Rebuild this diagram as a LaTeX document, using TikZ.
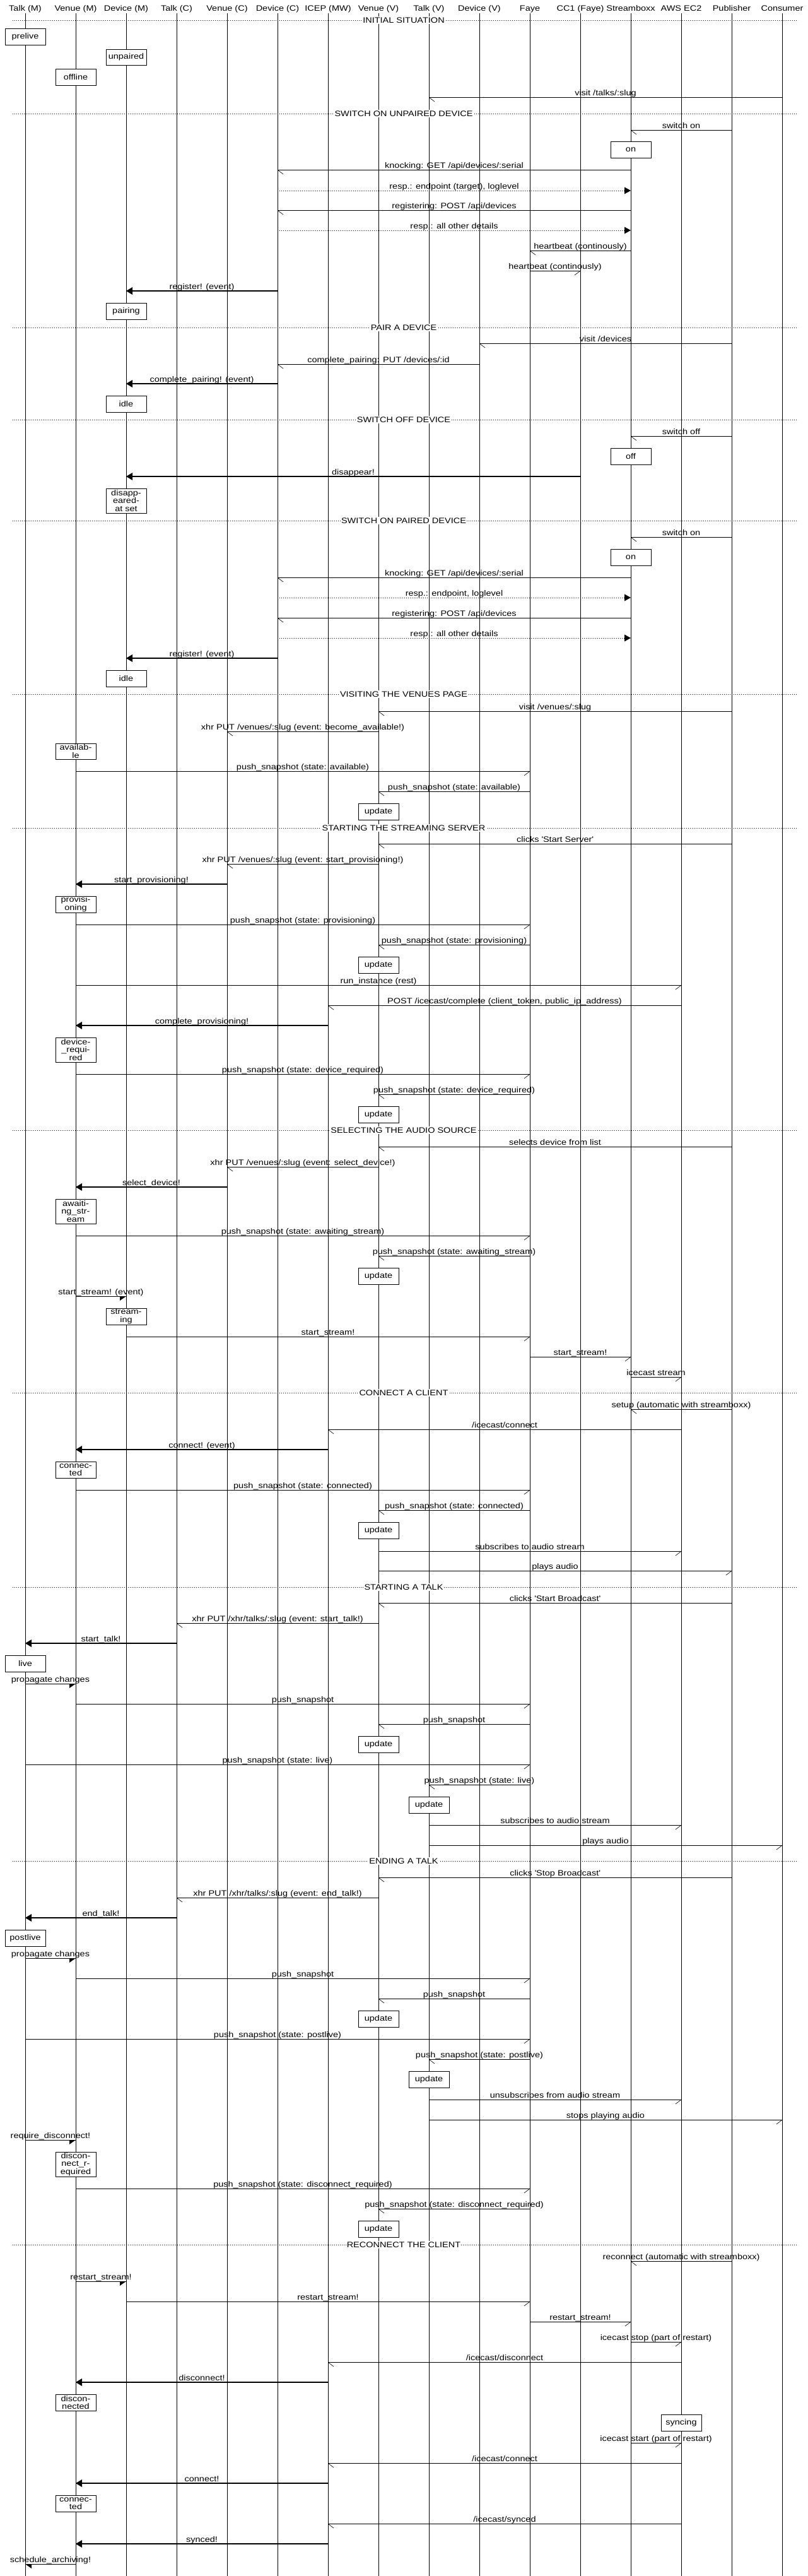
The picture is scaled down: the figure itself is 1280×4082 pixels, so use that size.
\documentclass[tikz,border=0pt]{standalone}
\usepackage{fontspec}
\setmainfont{Liberation Sans}[FakeStretch=1.16]
\newcommand\lblfont{\fontsize{12.5}{12.6}\selectfont}
\newcounter{mc}
\newcommand\setdir[2]{\ifnum#2>#1\relax\def\sdir{-1}\else\def\sdir{1}\fi}
\tikzset{
  lifeline/.style={line width=0.6pt},
  hdr/.style={font=\lblfont, anchor=base, inner sep=0pt},
  lbl/.style={font=\lblfont, anchor=base, inner sep=0pt, yshift=2.5pt, midway},
  thinmsg/.style={line width=1pt},
  barbline/.style={line width=0.6pt},
  thickmsg/.style={line width=1.5pt},
  retmsg/.style={line width=1pt, dotted},
  statebox/.style={draw, fill=white, line width=0.8pt, minimum width=64pt, inner sep=0pt, font=\lblfont, align=center},
  sepline/.style={line width=1pt, dotted},
  seplbl/.style={font=\lblfont, fill=white, inner sep=1.2pt},
}
% thin message with single barb
\newcommand\mthin[4]{\setdir{#1}{#2}\stepcounter{mc}%
  \draw[thinmsg] (L#1|-0,#3) -- (L#2|-0,#3) node[lbl] (m\themc) {#4};%
  \draw[barbline] (L#2|-0,#3) ++(\sdir*1,1) -- ++(\sdir*8,6);}
% thick message with filled triangle
\newcommand\mthick[4]{\setdir{#1}{#2}\stepcounter{mc}%
  \draw[thickmsg, shorten >=3pt] (L#1|-0,#3) -- (L#2|-0,#3) node[lbl] (m\themc) {#4};%
  \fill (L#2|-0,#3) -- ++(\sdir*10,-6) -- ++(0,12) -- cycle;}
% dotted reply with filled triangle
\newcommand\mret[4]{\setdir{#1}{#2}\stepcounter{mc}%
  \draw[retmsg, shorten >=3pt] (L#1|-0,#3) -- (L#2|-0,#3) node[lbl] (m\themc) {#4};%
  \fill (L#2|-0,#3) -- ++(\sdir*10,-5.5) -- ++(0,11) -- cycle;}
% short message with half filled triangle
\newcommand\mshort[4]{\setdir{#1}{#2}\stepcounter{mc}%
  \draw[thinmsg] (L#1|-0,#3) -- (L#2|-0,#3) node[lbl] (m\themc) {#4};%
  \fill (L#2|-0,#3) -- ++(\sdir*10,0) -- ++(0,7) -- cycle;}
% state box
\newcommand\stbox[4]{\stepcounter{mc}%
  \node[statebox, minimum height={#3-#2}] (b\themc) at (L#1|-0,{(#2+#3)/2}) {#4};}
% separator
\newcommand\sepl[2]{\stepcounter{mc}%
  \draw[sepline] (20,#1) coordinate (sa\themc) -- (1265,#1) coordinate (sb\themc);%
  \node[seplbl] (s\themc) at (640,#1) {#2};}
\begin{document}
\begin{tikzpicture}[x=1pt,y=-1pt]
\useasboundingbox[fill=white] (0,0) rectangle (1280,4082);
% headers
\node[hdr] (H0) at (40,17) {Talk (M)};
\node[hdr] (H1) at (120,17) {Venue (M)};
\node[hdr] (H2) at (200,17) {Device (M)};
\node[hdr] (H3) at (280,17) {Talk (C)};
\node[hdr] (H4) at (360,17) {Venue (C)};
\node[hdr] (H5) at (440,17) {Device (C)};
\node[hdr] (H6) at (520,17) {ICEP (MW)};
\node[hdr] (H7) at (600,17) {Venue (V)};
\node[hdr] (H8) at (680,17) {Talk (V)};
\node[hdr] (H9) at (760,17) {Device (V)};
\node[hdr] (H10) at (840,17) {Faye};
\node[hdr] (H11) at (920,17) {CC1 (Faye)};
\node[hdr] (H12) at (1000,17) {Streamboxx};
\node[hdr] (H13) at (1080,17) {AWS EC2};
\node[hdr] (H14) at (1160,17) {Publisher};
\node[hdr] (H15) at (1240,17) {Consumer};
\foreach \i in {0,...,15}{\coordinate (L\i) at (40+80*\i,21);}
\foreach \i in {0,...,15}{\draw[lifeline] (L\i) -- (L\i|-0,4082);}
% INITIAL SITUATION
\sepl{32}{INITIAL SITUATION}
\stbox{0}{45}{71}{prelive}
\stbox{2}{78}{103}{unpaired}
\stbox{1}{109}{135}{offline}
\mthin{15}{8}{154}{visit /talks/:slug}
% SWITCH ON UNPAIRED DEVICE
\sepl{180}{SWITCH ON UNPAIRED DEVICE}
\mthin{14}{12}{206}{switch on}
\stbox{12}{224}{250}{on}
\mthin{12}{5}{269}{knocking: GET /api/devices/:serial}
\mret{5}{12}{302}{resp.: endpoint (target), loglevel}
\mthin{12}{5}{333}{registering: POST /api/devices}
\mret{5}{12}{365}{resp.: all other details}
\mthin{12}{10}{397}{heartbeat (continously)}
\mthin{10}{11}{429}{heartbeat (continously)}
\mthick{5}{2}{461}{register! (event)}
\stbox{2}{480}{506}{pairing}
% PAIR A DEVICE
\sepl{519}{PAIR A DEVICE}
\mthin{14}{9}{544}{visit /devices}
\mthin{9}{5}{577}{complete\_pairing: PUT /devices/:id}
\mthick{5}{2}{608}{complete\_pairing! (event)}
\stbox{2}{627}{653}{idle}
% SWITCH OFF DEVICE
\sepl{665}{SWITCH OFF DEVICE}
\mthin{14}{12}{691}{switch off}
\stbox{12}{710}{736}{off}
\mthick{11}{2}{755}{disappear!}
\stbox{2}{774}{813}{disapp-\\eared-\\at set}
% SWITCH ON PAIRED DEVICE
\sepl{825}{SWITCH ON PAIRED DEVICE}
\mthin{14}{12}{851}{switch on}
\stbox{12}{870}{896}{on}
\mthin{12}{5}{915}{knocking: GET /api/devices/:serial}
\mret{5}{12}{947}{resp.: endpoint, loglevel}
\mthin{12}{5}{979}{registering: POST /api/devices}
\mret{5}{12}{1011}{resp.: all other details}
\mthick{5}{2}{1043}{register! (event)}
\stbox{2}{1062}{1088}{idle}
% VISITING THE VENUES PAGE
\sepl{1100}{VISITING THE VENUES PAGE}
\mthin{14}{7}{1127}{visit /venues/:slug}
\mthin{7}{4}{1159}{xhr PUT /venues/:slug (event: become\_available!)}
\stbox{1}{1178}{1203}{availab-\\le}
\mthin{1}{10}{1222}{push\_snapshot (state: available)}
\mthin{10}{7}{1254}{push\_snapshot (state: available)}
\stbox{7}{1273}{1299}{update}
% STARTING THE STREAMING SERVER
\sepl{1312}{STARTING THE STREAMING SERVER}
\mthin{14}{7}{1337}{clicks \textquotesingle{}Start Server\textquotesingle}
\mthin{7}{4}{1369}{xhr PUT /venues/:slug (event: start\_provisioning!)}
\mthick{4}{1}{1401}{start\_provisioning!}
\stbox{1}{1420}{1446}{provisi-\\oning}
\mthin{1}{10}{1465}{push\_snapshot (state: provisioning)}
\mthin{10}{7}{1497}{push\_snapshot (state: provisioning)}
\stbox{7}{1516}{1542}{update}
\mthin{1}{13}{1561}{run\_instance (rest)}
\mthin{13}{6}{1593}{POST /icecast/complete (client\_token, public\_ip\_address)}
\mthick{6}{1}{1625}{complete\_provisioning!}
\stbox{1}{1644}{1683}{device-\\\_requi-\\red}
\mthin{1}{10}{1702}{push\_snapshot (state: device\_required)}
\mthin{10}{7}{1734}{push\_snapshot (state: device\_required)}
\stbox{7}{1753}{1779}{update}
% SELECTING THE AUDIO SOURCE
\sepl{1791}{SELECTING THE AUDIO SOURCE}
\mthin{14}{7}{1817}{selects device from list}
\mthin{7}{4}{1849}{xhr PUT /venues/:slug (event: select\_device!)}
\mthick{4}{1}{1881}{select\_device!}
\stbox{1}{1900}{1939}{awaiti-\\ng\_str-\\eam}
\mthin{1}{10}{1958}{push\_snapshot (state: awaiting\_stream)}
\mthin{10}{7}{1990}{push\_snapshot (state: awaiting\_stream)}
\stbox{7}{2009}{2035}{update}
\mshort{1}{2}{2054}{start\_stream! (event)}
\stbox{2}{2073}{2099}{stream-\\ing}
\mthin{2}{10}{2118}{start\_stream!}
\mthin{10}{12}{2150}{start\_stream!}
\mthin{12}{13}{2182}{icecast stream}
% CONNECT A CLIENT
\sepl{2207}{CONNECT A CLIENT}
\mthin{14}{12}{2233}{setup (automatic with streamboxx)}
\mthin{13}{6}{2265}{/icecast/connect}
\mthick{6}{1}{2297}{connect! (event)}
\stbox{1}{2316}{2342}{connec-\\ted}
\mthin{1}{10}{2361}{push\_snapshot (state: connected)}
\mthin{10}{7}{2393}{push\_snapshot (state: connected)}
\stbox{7}{2412}{2438}{update}
\mthin{7}{13}{2458}{subscribes to audio stream}
\mthin{7}{14}{2489}{plays audio}
% STARTING A TALK
\sepl{2515}{STARTING A TALK}
\mthin{14}{7}{2540}{clicks \textquotesingle{}Start Broadcast\textquotesingle}
\mthin{7}{3}{2572}{xhr PUT /xhr/talks/:slug (event: start\_talk!)}
\mthick{3}{0}{2604}{start\_talk!}
\stbox{0}{2623}{2649}{live}
\mshort{0}{1}{2668}{propagate changes}
\mthin{1}{10}{2700}{push\_snapshot}
\mthin{10}{7}{2732}{push\_snapshot}
\stbox{7}{2751}{2777}{update}
\mthin{0}{10}{2796}{push\_snapshot (state: live)}
\mthin{10}{8}{2828}{push\_snapshot (state: live)}
\stbox{8}{2847}{2873}{update}
\mthin{8}{13}{2892}{subscribes to audio stream}
\mthin{8}{15}{2924}{plays audio}
% ENDING A TALK
\sepl{2949}{ENDING A TALK}
\mthin{14}{7}{2975}{clicks \textquotesingle{}Stop Broadcast\textquotesingle}
\mthin{7}{3}{3007}{xhr PUT /xhr/talks/:slug (event: end\_talk!)}
\mthick{3}{0}{3039}{end\_talk!}
\stbox{0}{3058}{3084}{postlive}
\mshort{0}{1}{3103}{propagate changes}
\mthin{1}{10}{3135}{push\_snapshot}
\mthin{10}{7}{3167}{push\_snapshot}
\stbox{7}{3186}{3212}{update}
\mthin{0}{10}{3231}{push\_snapshot (state: postlive)}
\mthin{10}{8}{3263}{push\_snapshot (state: postlive)}
\stbox{8}{3282}{3308}{update}
\mthin{8}{13}{3327}{unsubscribes from audio stream}
\mthin{8}{15}{3359}{stops playing audio}
\mshort{0}{1}{3391}{require\_disconnect!}
\stbox{1}{3410}{3449}{discon-\\nect\_r-\\equired}
\mthin{1}{10}{3468}{push\_snapshot (state: disconnect\_required)}
\mthin{10}{7}{3500}{push\_snapshot (state: disconnect\_required)}
\stbox{7}{3519}{3545}{update}
% RECONNECT THE CLIENT
\sepl{3557}{RECONNECT THE CLIENT}
\mthin{14}{12}{3583}{reconnect (automatic with streamboxx)}
\mshort{1}{2}{3615}{restart\_stream!}
\mthin{2}{10}{3647}{restart\_stream!}
\mthin{10}{12}{3679}{restart\_stream!}
\mthin{12}{13}{3711}{icecast stop (part of restart)}
\mthin{13}{6}{3743}{/icecast/disconnect}
\mthick{6}{1}{3775}{disconnect!}
\stbox{1}{3794}{3820}{discon-\\nected}
\stbox{13}{3826}{3852}{syncing}
\mthin{12}{13}{3871}{icecast start (part of restart)}
\mthin{13}{6}{3903}{/icecast/connect}
\mthick{6}{1}{3935}{connect!}
\stbox{1}{3954}{3980}{connec-\\ted}
\mthin{13}{6}{3999}{/icecast/synced}
\mthick{6}{1}{4031}{synced!}
\mshort{1}{0}{4063}{schedule\_archiving!}
\end{tikzpicture}
\end{document}
